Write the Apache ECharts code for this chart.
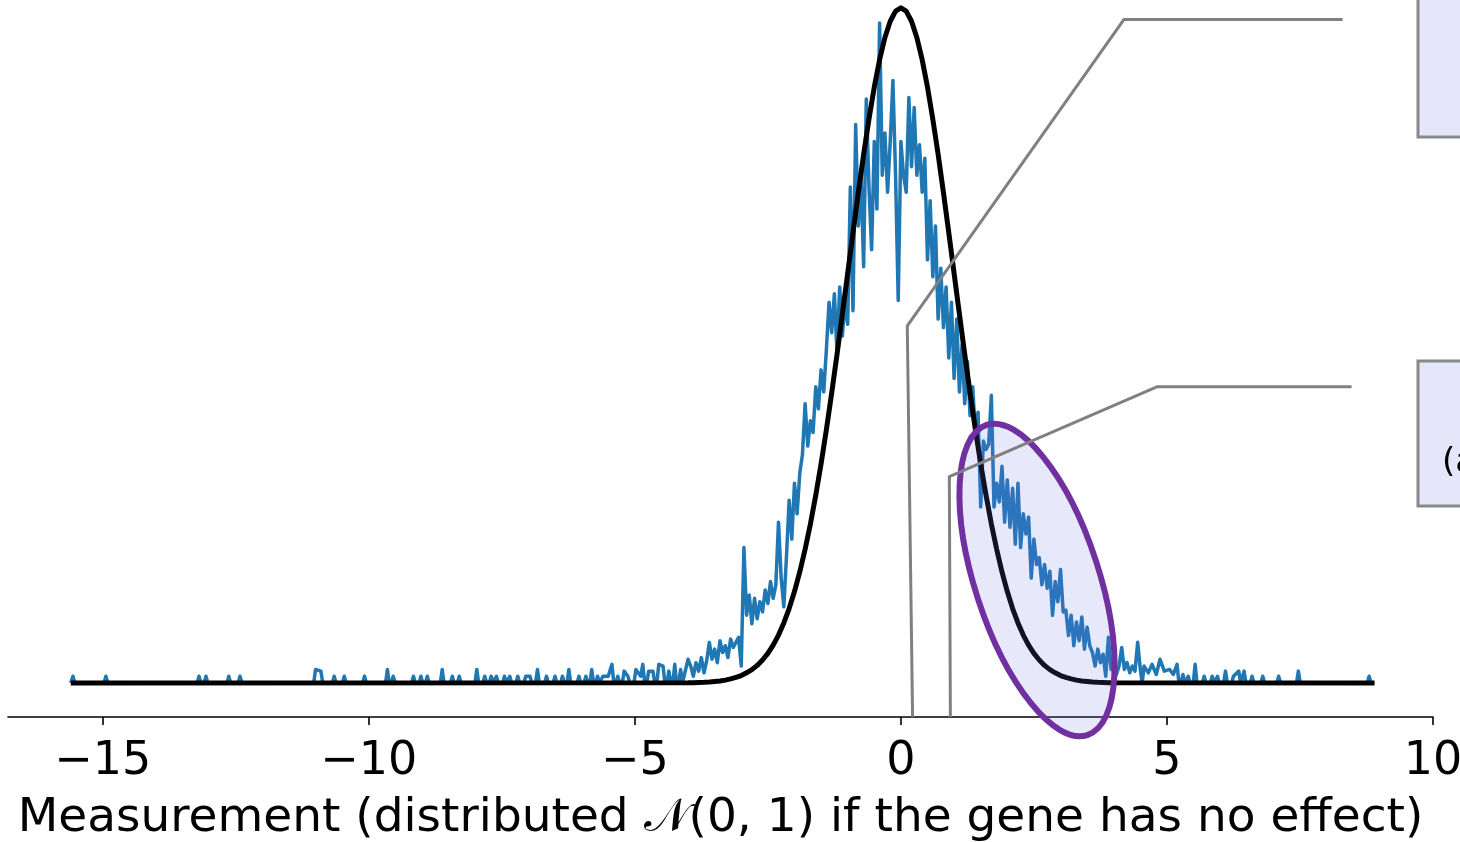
<!DOCTYPE html>
<html>
<head>
<meta charset="utf-8">
<script src="https://cdn.jsdelivr.net/npm/echarts@6/dist/echarts.min.js"></script>
<style>
html,body{margin:0;padding:0;background:#fff;}
#chart{width:1460px;height:842px;}
</style>
</head>
<body>
<div id="chart"></div>
<script>
// ---------- data ----------
const xMin = -16.78, xMax = 10;
const yMin = -0.0201, yMax = 0.4;
const tickValues = [-15, -10, -5, 0, 5, 10];
const xAxisTitle = 'Measurement (distributed {cal|𝒩}(0, 1) if the gene has no effect)';

// observed measurements (blue), dense part: x from -4.00 step 0.05
const blueStart = -4.0, blueStep = 0.05;
const blueCentral = [
  0.014,0.010,0.004,0.012,0.007,0.015,0.006,0.013,0.024,0.014,0.020,0.012,0.025,0.018,0.022,0.015,0.026,0.021,0.024,0.027,
  0.010,0.080,0.040,0.052,0.035,0.050,0.038,0.048,0.042,0.055,0.047,0.060,0.050,0.058,0.095,0.062,0.045,0.075,0.108,0.085,
  0.118,0.100,0.124,0.135,0.165,0.140,0.155,0.148,0.175,0.162,0.185,0.172,0.197,0.225,0.207,0.230,0.195,0.234,0.205,0.226,
  0.212,0.293,0.220,0.330,0.270,0.300,0.246,0.345,0.293,0.256,0.320,0.280,0.390,0.300,0.325,0.290,0.320,0.356,0.300,0.226,
  0.320,0.300,0.290,0.346,0.305,0.340,0.300,0.318,0.290,0.310,0.250,0.285,0.240,0.270,0.215,0.245,0.210,0.234,0.192,0.225,
  0.180,0.215,0.172,0.200,0.165,0.190,0.158,0.175,0.147,0.160,0.104,0.143,0.138,0.141,0.170,0.104,0.118,0.107,0.128,0.095,
  0.120,0.092,0.115,0.082,0.118,0.080,0.100,0.088,0.098,0.062,0.085,0.070,0.074,0.058,0.070,0.056,0.066,0.040,0.060,0.048,
  0.067,0.042,0.043,0.028,0.040,0.022,0.036,0.025,0.039,0.020,0.033,0.022,0.018,0.010,0.020,0.012,0.017,0.004,0.027,0.008,
  0.014,0.005,0.010,0.021,0.008,0.012,0.006,0.010,0.007,0.024,0.008
];
// sparse tails (isolated bumps)
const leftTailX = [-15.56,-14.94,-13.19,-13.06,-12.63,-12.42,-11.0,-10.9,-10.65,-10.46,-10.08,-9.65,-9.54,-9.16,-9.02,-8.9,-8.62,-8.43,-8.3,-7.97,-7.82,-7.7,-7.6,-7.45,-7.35,-7.2,-7.05,-6.97,-6.83,-6.66,-6.5,-6.36,-6.24,-6.05,-5.92,-5.81,-5.7,-5.6,-5.5,-5.43,-5.32,-5.2,-5.13,-4.98,-4.89,-4.85,-4.74,-4.66,-4.55,-4.47,-4.36,-4.25,-4.14];
const leftTailY = [0.004,0.004,0.004,0.004,0.004,0.004,0.008,0.007,0.004,0.004,0.004,0.008,0.004,0.004,0.004,0.004,0.008,0.004,0.004,0.008,0.004,0.004,0.004,0.004,0.004,0.004,0.004,0.004,0.008,0.004,0.004,0.004,0.008,0.004,0.004,0.008,0.004,0.004,0.004,0.011,0.004,0.007,0.004,0.008,0.004,0.011,0.007,0.007,0.011,0.010,0.007,0.011,0.008];
const rightTailX = [4.57,4.65,4.72,4.8,4.87,4.95,5.05,5.12,5.19,5.3,5.4,5.53,5.7,5.85,5.95,6.1,6.25,6.35,6.45,6.6,6.8,7.1,7.47,8.8];
const rightTailY = [0.010,0.006,0.011,0.005,0.014,0.007,0.008,0.005,0.011,0.005,0.004,0.011,0.004,0.004,0.004,0.007,0.004,0.007,0.007,0.004,0.004,0.004,0.007,0.004];
const dataStartX = -15.6, dataEndX = 8.9;

// reference density (black), x from -4.0 step 0.1
const curveStart = -4.0, curveStep = 0.1;
const curveY = [
  0.0001,0.0002,0.0003,0.0004,0.0006,0.0009,0.0012,0.0017,0.0024,0.0033,
  0.0044,0.0060,0.0079,0.0104,0.0136,0.0175,0.0224,0.0283,0.0355,0.0440,
  0.0540,0.0656,0.0790,0.0940,0.1109,0.1295,0.1497,0.1714,0.1942,0.2179,
  0.2420,0.2661,0.2897,0.3123,0.3332,0.3521,0.3683,0.3814,0.3910,0.3970,
  0.3989,
  0.3970,0.3910,0.3814,0.3683,0.3521,0.3332,0.3123,0.2897,0.2661,0.2420,
  0.2179,0.1942,0.1714,0.1497,0.1295,0.1109,0.0940,0.0790,0.0656,0.0540,
  0.0440,0.0355,0.0283,0.0224,0.0175,0.0136,0.0104,0.0079,0.0060,0.0044,
  0.0033,0.0024,0.0017,0.0012,0.0009,0.0006,0.0004,0.0003,0.0002,0.0001
];

// annotation connectors, in data coordinates
const connector1X = [0.22, 0.12, 4.19, 8.3];
const connector1Y = [-0.0201, 0.211, 0.392, 0.392];
const connector2X = [0.93, 0.91, 4.81, 8.47];
const connector2Y = [-0.0201, 0.122, 0.175, 0.175];

// ---------- build series data ----------
function r(v){ return Math.round(v*10000)/10000; }
function tailPoints(xs, ys){
  const out = [];
  for (let i = 0; i < xs.length; i++){
    const prevFar = i === 0 || xs[i] - xs[i-1] > 0.1;
    const nextFar = i === xs.length - 1 || xs[i+1] - xs[i] > 0.1;
    if (prevFar) out.push([r(xs[i]-0.035), 0]);
    out.push([xs[i], ys[i]]);
    if (nextFar) out.push([r(xs[i]+0.035), 0]);
  }
  return out;
}
const blueData = [];
blueData.push([dataStartX, 0]);
tailPoints(leftTailX, leftTailY).forEach(p => { if (p[0] >= dataStartX) blueData.push(p); });
blueCentral.forEach((v, i) => blueData.push([r(blueStart + i*blueStep), v]));
tailPoints(rightTailX, rightTailY).forEach(p => blueData.push(p));
blueData.push([dataEndX, 0]);

const blackData = [[dataStartX, 0]];
curveY.forEach((v, i) => blackData.push([r(curveStart + i*curveStep), v]));
blackData.push([dataEndX, 0]);

const conn1 = connector1X.map((x, i) => [x, connector1Y[i]]);
const conn2 = connector2X.map((x, i) => [x, connector2Y[i]]);

// ---------- chart ----------
const chart = echarts.init(document.getElementById('chart'), null, {renderer: 'canvas'});
const FONT = 'DejaVu Sans';
chart.setOption({
  animation: false,
  backgroundColor: '#ffffff',
  grid: {left: 8, right: 27, top: 6, bottom: 125, containLabel: false, outerBoundsMode: 'none'},
  xAxis: {
    type: 'value', min: xMin, max: xMax,
    axisLine: {onZero: false, lineStyle: {color: '#000', width: 1.6}},
    axisTick: {show: true, length: 8, customValues: tickValues, lineStyle: {color: '#000', width: 1.6}},
    axisLabel: {
      customValues: tickValues, margin: 22,
      fontSize: 46, fontFamily: FONT, color: '#000',
      formatter: v => String(v).replace('-', '\u2212')
    },
    splitLine: {show: false},
    name: xAxisTitle,
    nameLocation: 'middle', nameGap: 78,
    nameTextStyle: {
      fontSize: 47, fontFamily: FONT, color: '#000',
      rich: {cal: {fontSize: 47, fontFamily: FONT, color: '#000'}}
    }
  },
  yAxis: {type: 'value', min: yMin, max: yMax, show: false, splitLine: {show: false}},
  series: [
    {type: 'line', data: blueData, showSymbol: false, symbol: 'none', clip: false, z: 2,
     lineStyle: {color: '#1f77b4', width: 3.5, join: 'round'}},
    {type: 'line', data: blackData, showSymbol: false, symbol: 'none', clip: false, z: 3,
     lineStyle: {color: '#000000', width: 5, join: 'round'}},
    {type: 'line', data: conn1, showSymbol: false, symbol: 'none', clip: false, z: 20, silent: true,
     lineStyle: {color: '#808080', width: 3}},
    {type: 'line', data: conn2, showSymbol: false, symbol: 'none', clip: false, z: 20, silent: true,
     lineStyle: {color: '#808080', width: 3}}
  ],
  graphic: {elements: [
    {type: 'ellipse', z: 10, x: 1037, y: 580, rotation: 18*Math.PI/180,
     shape: {cx: 0, cy: 0, rx: 62, ry: 163},
     style: {fill: 'rgba(110,110,230,0.16)', stroke: '#7030a0', lineWidth: 6}},
    {type: 'rect', z: 10, x: 1418, y: -20, shape: {x: 0, y: 0, width: 90, height: 157},
     style: {fill: '#e6e6fa', stroke: '#888888', lineWidth: 3}},
    {type: 'rect', z: 10, x: 1418, y: 361, shape: {x: 0, y: 0, width: 90, height: 145},
     style: {fill: '#e6e6fa', stroke: '#888888', lineWidth: 3}},
    {type: 'text', z: 11, x: 1442, y: 463,
     style: {text: '(a', fontSize: 34, fontFamily: FONT, fill: '#000', verticalAlign: 'middle', align: 'left'}}
  ]}
});
</script>
</body>
</html>
